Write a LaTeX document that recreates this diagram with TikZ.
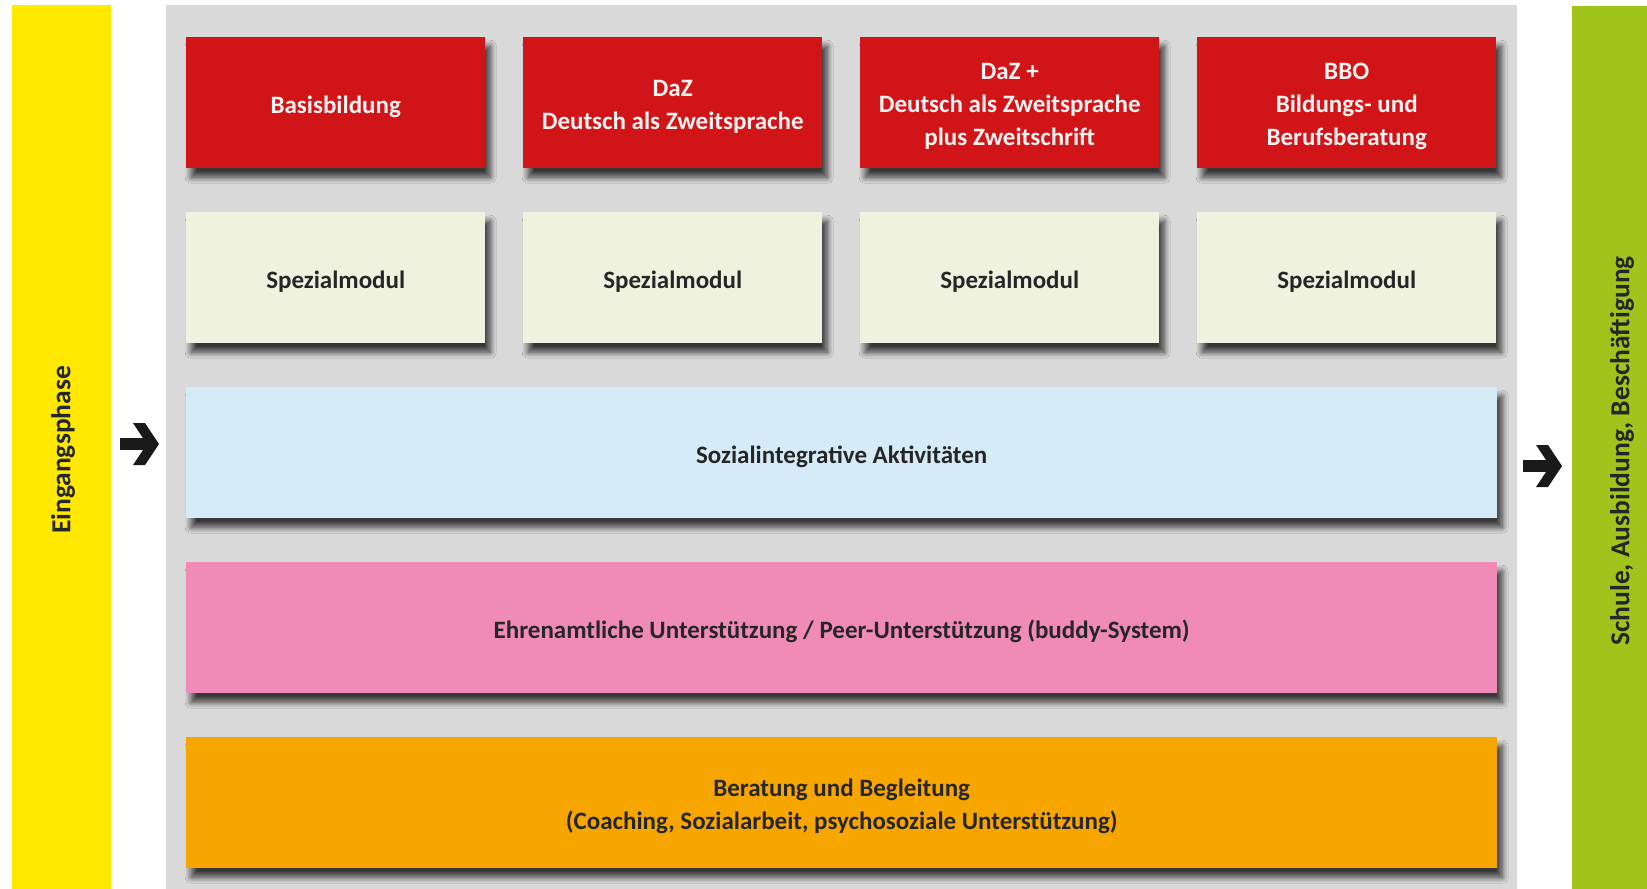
\documentclass[tikz,border=0pt]{standalone}
\usepackage{fontspec}
\setmainfont{Carlito}
\usetikzlibrary{shadows.blur}
\definecolor{cyellow}{HTML}{FFE900}
\definecolor{cgreen}{HTML}{A1C41C}
\definecolor{cgrey}{HTML}{D9D9D9}
\definecolor{cred}{HTML}{D11418}
\definecolor{ccream}{HTML}{EFF2DF}
\definecolor{cblue}{HTML}{D5ECF8}
\definecolor{cpink}{HTML}{F08BB8}
\definecolor{corange}{HTML}{F7A600}
\definecolor{ctext}{HTML}{262626}
\definecolor{cwhitetext}{HTML}{FFF2F0}
\tikzset{
  boxbase/.style={anchor=north west, inner sep=0pt,
    blur shadow={shadow xshift=5pt, shadow yshift=-9pt, shadow blur radius=6pt, shadow blur steps=10, shadow opacity=75}},
  redbox/.style={boxbase, fill=cred, minimum width=299pt, minimum height=131pt},
  creambox/.style={boxbase, fill=ccream, minimum width=299pt, minimum height=131pt},
  widebox/.style={boxbase, minimum width=1311pt, minimum height=131pt},
  boxtext/.style={align=center, inner sep=0pt, yshift=-4pt,
    font=\fontsize{25}{33}\selectfont\bfseries, text=ctext},
  redtext/.style={boxtext, text=cwhitetext},
  sidetext/.style={rotate=90, font=\fontsize{27.5}{33}\selectfont\bfseries, text=ctext},
  arrowshape/.style={fill=black!90}
}
\begin{document}
\begin{tikzpicture}[x=1pt,y=-1pt]
\useasboundingbox (0,0) rectangle (1647,889);
\fill[white] (0,0) rectangle (1647,889);
% side bars and background panel
\fill[cyellow] (12,5) rectangle (111,889);
\fill[cgrey] (166,5) rectangle (1517,889);
\fill[cgreen] (1572,6) rectangle (1647,889);
\node[sidetext] (eing) at (63,450) {Eingangsphase};
\node[sidetext] (schule) at (1622,451) {Schule, Ausbildung, Beschäftigung};
% red row
\node[redbox] (basis) at (186,37) {};
\node[redbox] (daz) at (523,37) {};
\node[redbox] (dazplus) at (860,37) {};
\node[redbox] (bbo) at (1197,37) {};
\node[redtext] (tbasis) at (basis.center) {Basisbildung};
\node[redtext] (tdaz) at (daz.center) {DaZ\\Deutsch als Zweitsprache};
\node[redtext] (tdazplus) at (dazplus.center) {DaZ +\\Deutsch als Zweitsprache\\plus Zweitschrift};
\node[redtext] (tbbo) at (bbo.center) {BBO\\Bildungs- und\\Berufsberatung};
% cream row
\node[creambox] (sp1) at (186,212) {};
\node[creambox] (sp2) at (523,212) {};
\node[creambox] (sp3) at (860,212) {};
\node[creambox] (sp4) at (1197,212) {};
\node[boxtext] (tsp1) at (sp1.center) {Spezialmodul};
\node[boxtext] (tsp2) at (sp2.center) {Spezialmodul};
\node[boxtext] (tsp3) at (sp3.center) {Spezialmodul};
\node[boxtext] (tsp4) at (sp4.center) {Spezialmodul};
% wide rows
\node[widebox, fill=cblue] (sozial) at (186,387) {};
\node[widebox, fill=cpink] (ehren) at (186,562) {};
\node[widebox, fill=corange] (beratung) at (186,737) {};
\node[boxtext] (tsozial) at (sozial.center) {Sozialintegrative Aktivitäten};
\node[boxtext] (tehren) at (ehren.center) {Ehrenamtliche Unterstützung / Peer-Unterstützung (buddy-System)};
\node[boxtext] (tberatung) at (beratung.center) {Beratung und Begleitung\\(Coaching, Sozialarbeit, psychosoziale Unterstützung)};
% arrows
\fill[arrowshape] (120,438) -- (148,438) -- (148,450) -- (120,450) -- cycle;
\fill[arrowshape] (133,423) -- (145,423) -- (159,444) -- (145,465) -- (133,465) -- (147,444) -- cycle;
\fill[arrowshape] (1523,460) -- (1551,460) -- (1551,472) -- (1523,472) -- cycle;
\fill[arrowshape] (1536,445) -- (1548,445) -- (1562,466) -- (1548,487) -- (1536,487) -- (1550,466) -- cycle;
\end{tikzpicture}
\end{document}
